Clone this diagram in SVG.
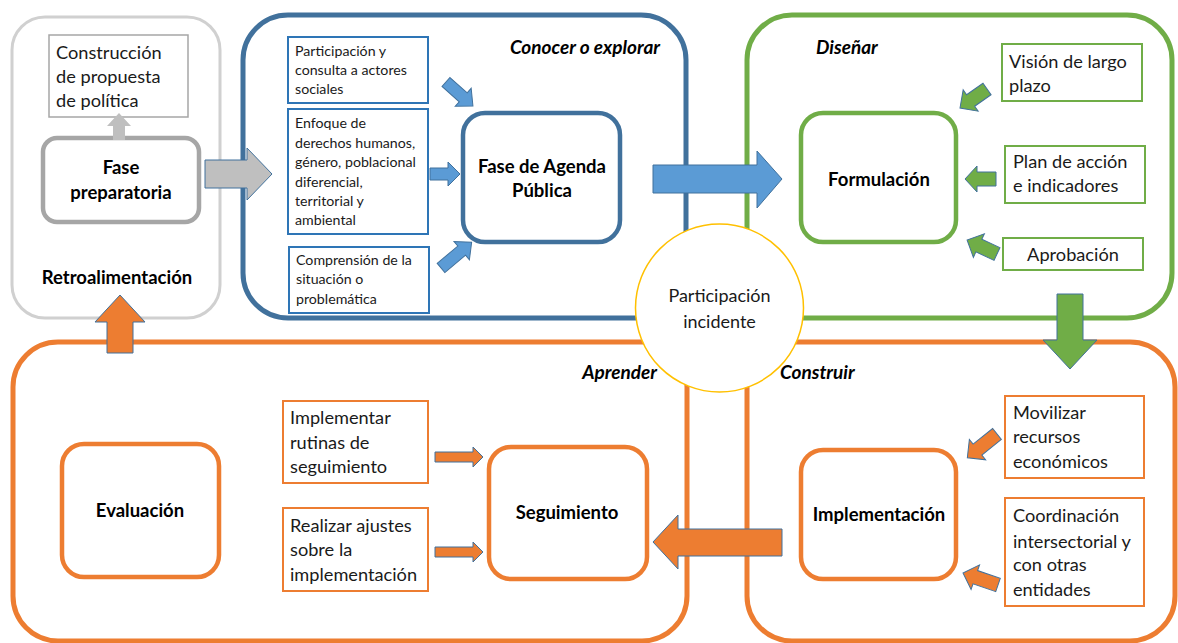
<svg xmlns="http://www.w3.org/2000/svg" width="1178" height="643" viewBox="0 0 1178 643">
<style>
text{font-family:Lato,"Open Sans","Liberation Sans",sans-serif;fill:#1a1a1a}
.t{font-size:18.2px}
.s{font-size:14.2px}
.b{font-weight:bold;font-size:18.5px;text-anchor:middle;fill:#000}
.h{font-weight:bold;font-style:italic;font-size:19px;fill:#000}
.c{text-anchor:middle}
.fr{fill:none;stroke-width:5}
.gray{stroke:#d0d0d0;stroke-width:3}
.blue{stroke:#41719c}
.green{stroke:#70ad47}
.orange{stroke:#ed7d31}
.node{fill:#fff;stroke-width:4.5}
.box{fill:#fff;stroke-width:2}
.ar{stroke:#41719c;stroke-width:1}
.ab{fill:#5b9bd5}
.ag{fill:#70ad47}
.ao{fill:#ed7d31}
</style>

<g id="frame-retro">
<rect class="fr gray" x="12" y="17" width="208" height="301" rx="33"/>
</g>
<g id="frame-conocer">
<rect class="fr blue" x="243" y="15" width="443" height="303" rx="45"/>
<text class="h" x="660" y="54" text-anchor="end">Conocer o explorar</text>
</g>
<g id="frame-disenar">
<rect class="fr green" x="747" y="15" width="425" height="303" rx="45"/>
<text class="h" x="816" y="54">Diseñar</text>
</g>
<g id="frame-aprender">
<rect class="fr orange" x="13" y="342" width="674" height="299" rx="45"/>
<text class="h" x="657" y="379" text-anchor="end">Aprender</text>
</g>
<g id="frame-construir">
<rect class="fr orange" x="747" y="342" width="428" height="299" rx="45"/>
<text class="h" x="780" y="379">Construir</text>
</g>

<g id="construccion">
<rect x="49" y="35" width="139" height="82" fill="#fff" stroke="#a6a6a6" stroke-width="1.5"/>
<text class="t" x="56" y="59">Construcción</text>
<text class="t" x="56" y="83">de propuesta</text>
<text class="t" x="56" y="107">de política</text>
</g>
<g id="fase-preparatoria">
<rect class="node" x="43" y="138" width="156" height="84" rx="14" stroke="#a6a6a6"/>
<text class="b" x="121" y="174">Fase</text>
<text class="b" x="121" y="199">preparatoria</text>
</g>
<g id="retroalimentacion">
<text class="b" x="117" y="284">Retroalimentación</text>
</g>

<g id="participacion-consulta">
<rect class="box" x="288" y="37" width="140" height="66" stroke="#2e75b6"/>
<text class="s" x="295" y="56">Participación y</text>
<text class="s" x="295" y="75">consulta a actores</text>
<text class="s" x="295" y="94">sociales</text>
</g>
<g id="enfoque">
<rect class="box" x="288" y="109" width="140" height="125" stroke="#2e75b6"/>
<text class="s" x="295" y="128">Enfoque de</text>
<text class="s" x="295" y="148">derechos humanos,</text>
<text class="s" x="295" y="167">género, poblacional</text>
<text class="s" x="295" y="187">diferencial,</text>
<text class="s" x="295" y="206">territorial y</text>
<text class="s" x="295" y="225">ambiental</text>
</g>
<g id="comprension">
<rect class="box" x="289" y="247" width="140" height="66" stroke="#2e75b6"/>
<text class="s" x="296" y="265">Comprensión de la</text>
<text class="s" x="296" y="284">situación o</text>
<text class="s" x="296" y="304">problemática</text>
</g>
<g id="fase-agenda">
<rect class="node blue" x="463" y="113" width="157" height="129" rx="22"/>
<text class="b" x="542" y="173">Fase de Agenda</text>
<text class="b" x="542" y="197">Pública</text>
</g>

<g id="formulacion">
<rect class="node green" x="801" y="113" width="155" height="129" rx="22"/>
<text class="b" x="879" y="186">Formulación</text>
</g>
<g id="vision">
<rect class="box green" x="1002" y="44" width="140" height="57"/>
<text class="t" x="1009" y="68">Visión de largo</text>
<text class="t" x="1009" y="92">plazo</text>
</g>
<g id="plan">
<rect class="box green" x="1005" y="146" width="140" height="57"/>
<text class="t" x="1013" y="168">Plan de acción</text>
<text class="t" x="1013" y="192">e indicadores</text>
</g>
<g id="aprobacion">
<rect class="box green" x="1003" y="238" width="140" height="32"/>
<text class="t c" x="1073" y="261">Aprobación</text>
</g>

<g id="evaluacion">
<rect class="node orange" x="62" y="444" width="157" height="133" rx="22"/>
<text class="b" x="140" y="517">Evaluación</text>
</g>
<g id="implementar-rutinas">
<rect class="box orange" x="283" y="401" width="145" height="82"/>
<text class="t" x="290" y="424">Implementar</text>
<text class="t" x="290" y="449">rutinas de</text>
<text class="t" x="290" y="473">seguimiento</text>
</g>
<g id="realizar-ajustes">
<rect class="box orange" x="283" y="508" width="145" height="83"/>
<text class="t" x="290" y="532">Realizar ajustes</text>
<text class="t" x="290" y="556">sobre la</text>
<text class="t" x="290" y="581">implementación</text>
</g>
<g id="seguimiento">
<rect class="node orange" x="489" y="447" width="158" height="132" rx="22"/>
<text class="b" x="567" y="519">Seguimiento</text>
</g>

<g id="implementacion">
<rect class="node orange" x="801" y="450" width="155" height="129" rx="22"/>
<text class="b" x="879" y="521">Implementación</text>
</g>
<g id="movilizar">
<rect class="box orange" x="1005" y="396" width="139" height="82"/>
<text class="t" x="1013" y="419">Movilizar</text>
<text class="t" x="1013" y="443">recursos</text>
<text class="t" x="1013" y="468">económicos</text>
</g>
<g id="coordinacion">
<rect class="box orange" x="1005" y="498" width="139" height="108"/>
<text class="t" x="1013" y="522">Coordinación</text>
<text class="t" x="1013" y="548">intersectorial y</text>
<text class="t" x="1013" y="571">con otras</text>
<text class="t" x="1013" y="596">entidades</text>
</g>

<g id="connectors">
<polygon points="113,140 113,126 107,126 119,113 131,126 125,126 125,140" fill="#bfbfbf"/>
<polygon class="ar" points="205,160 247,160 247,148 272,174 247,200 247,188 205,188" fill="#bfbfbf" stroke="#8fa7c4"/>
<polygon class="ar ab" transform="translate(446,82) rotate(41.6)" points="0,-6 23,-6 23,-12 36,0 23,12 23,6 0,6"/>
<polygon class="ar ab" points="430,168 448,168 448,162 460,174 448,186 448,180 430,180"/>
<polygon class="ar ab" transform="translate(441,268) rotate(-40)" points="0,-6 27,-6 27,-12 40,0 27,12 27,6 0,6"/>
<polygon class="ar ab" points="653,165 757,165 757,151 782,179 757,208 757,193 653,193"/>
<polygon class="ar ag" transform="translate(987,89) rotate(144.9)" points="0,-7 20,-7 20,-13 33,0 20,13 20,7 0,7"/>
<polygon class="ar ag" points="996,172 977,172 977,166 965,179 977,192 977,186 996,186"/>
<polygon class="ar ag" transform="translate(997,254) rotate(-155)" points="0,-7 20,-7 20,-13 33,0 20,13 20,7 0,7"/>
<polygon class="ar ag" points="1057,294 1083,294 1083,340 1097,340 1070,369 1043,340 1057,340"/>
<polygon class="ar ao" transform="translate(997,434) rotate(141.3)" points="0,-7 25,-7 25,-13 38,0 25,13 25,7 0,7"/>
<polygon class="ar ao" transform="translate(998,585) rotate(-161)" points="0,-7 24,-7 24,-13 37,0 24,13 24,7 0,7"/>
<polygon class="ar ao" points="782,529 678,529 678,515 653,542 678,569 678,556 782,556"/>
<polygon class="ar ao" points="435,452 473,452 473,447 483,457 473,467 473,462 435,462"/>
<polygon class="ar ao" points="435,547 473,547 473,542 483,552 473,562 473,557 435,557"/>
<polygon class="ar ao" points="107,353 107,322 95,322 120,295 145,322 133,322 133,353"/>
</g>

<g id="participacion-incidente">
<circle cx="719.5" cy="308" r="84" fill="#fff" stroke="#ffc000" stroke-width="1.5"/>
<text class="c" x="719.5" y="302" style="font-size:18px">Participación</text>
<text class="c" x="719.5" y="328" style="font-size:18px">incidente</text>
</g>
</svg>
